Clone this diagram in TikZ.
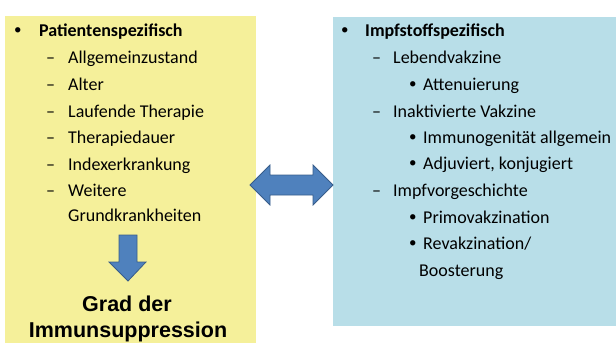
\documentclass[tikz,border=0pt]{standalone}
\usepackage{fontspec}
\setmainfont{Carlito}
\newfontfamily\arialfont{Liberation Sans}
\definecolor{boxyellow}{HTML}{F5F09A}
\definecolor{boxblue}{HTML}{B8DEE8}
\definecolor{arrowfill}{HTML}{4F81BD}
\definecolor{arrowline}{HTML}{385D8A}
\begin{document}
\begin{tikzpicture}[x=1pt,y=-1pt,
  txt/.style={anchor=base west,inner sep=0pt,font=\fontsize{18}{22}\selectfont},
  bul/.style={anchor=base west,inner sep=0pt,yshift=1.5pt,font=\fontsize{15}{18}\selectfont},
  head/.style={txt,font=\fontsize{18}{22}\selectfont\bfseries},
  big/.style={anchor=base,inner sep=0pt,font=\fontsize{21.5}{26}\selectfont\arialfont\bfseries},
  arrowshape/.style={fill=arrowfill,draw=arrowline,line width=0.8pt,line join=miter}]
\useasboundingbox (0,0) rectangle (616,343);
\fill[boxyellow] (5,16) rectangle (256,343);
\fill[boxblue] (333,17) rectangle (616,326);
% left list
\node[bul] (lb) at (14,36) {•};
\node[head] (lh) at (39,36) {Patientenspezifisch};
\foreach \y/\t/\n in {63/Allgemeinzustand/l1,90/Alter/l2,117/Laufende Therapie/l3,143/Therapiedauer/l4,170/Indexerkrankung/l5,196/Weitere/l6}{
  \node[txt] (\n d) at (46,\y) {–};
  \node[txt] (\n) at (68,\y) {\t};
}
\node[txt] (l7) at (68,221) {Grundkrankheiten};
\node[big] (g1) at (127,311) {Grad der};
\node[big] (g2) at (128,337) {Immunsuppression};
% right list
\node[bul] (rb) at (341,36) {•};
\node[head] (rh) at (365,36) {Impfstoffspezifisch};
\node[txt] (r1d) at (372,63) {–};
\node[txt] (r1) at (393,63) {Lebendvakzine};
\node[bul] (r2b) at (409,90) {•};
\node[txt] (r2) at (423,90) {Attenuierung};
\node[txt] (r3d) at (372,117) {–};
\node[txt] (r3) at (393,117) {Inaktivierte Vakzine};
\node[bul] (r4b) at (409,143) {•};
\node[txt] (r4) at (423,143) {Immunogenität allgemein};
\node[bul] (r5b) at (409,169) {•};
\node[txt] (r5) at (423,169) {Adjuviert, konjugiert};
\node[txt] (r6d) at (372,196) {–};
\node[txt] (r6) at (393,196) {Impfvorgeschichte};
\node[bul] (r7b) at (409,223) {•};
\node[txt] (r7) at (423,223) {Primovakzination};
\node[bul] (r8b) at (409,249) {•};
\node[txt] (r8) at (423,249) {Revakzination/};
\node[txt] (r9) at (419,276) {Boosterung};
% arrows
\draw[arrowshape] (250,185) -- (270,165) -- (270,175) -- (313,175) -- (313,165)
  -- (333,185) -- (313,205) -- (313,195) -- (270,195) -- (270,205) -- cycle;
\draw[arrowshape] (119,235) -- (137,235) -- (137,262) -- (146,262) -- (128,281)
  -- (109,262) -- (119,262) -- cycle;
\end{tikzpicture}
\end{document}
